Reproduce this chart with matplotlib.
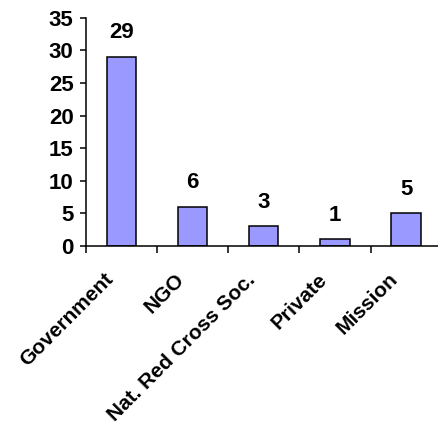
import matplotlib
matplotlib.use("Agg")
import matplotlib.pyplot as plt

categories = ["Government", "NGO", "Nat. Red Cross Soc.", "Private", "Mission"]
counts = [29, 6, 3, 1, 5]
y_ticks = [0, 5, 10, 15, 20, 25, 30, 35]

plt.rcParams["font.family"] = ["Liberation Sans", "DejaVu Sans"]
plt.rcParams["font.weight"] = "bold"

fig = plt.figure(figsize=(4.39, 4.36), dpi=100)
ax = fig.add_axes([0.196, 0.436, 0.81, 0.523])

x = [i + 0.5 for i in range(len(categories))]
ax.bar(x, counts, width=0.41, color="#9999FF", edgecolor="black", linewidth=1.1)

# value labels above bars
for xi, v in zip(x, counts):
    ax.annotate(str(v), (xi, v), xytext=(0, 17.5), textcoords="offset points",
                ha="center", va="center", fontsize=16, fontweight="bold")

ax.set_xlim(0, len(categories))
ax.set_ylim(0, 35)
ax.set_yticks(y_ticks)
ax.set_yticklabels([str(t) for t in y_ticks], fontsize=16, fontweight="bold")

# ticks sit on category boundaries, names are placed under the centres
ax.set_xticks(range(len(categories) + 1))
ax.set_xticklabels([])
for xi, name in zip(x, categories):
    ax.annotate(name, (xi, 0), xycoords=("data", "axes fraction"),
                xytext=(-8, -22), textcoords="offset points",
                ha="right", va="center", rotation=45, rotation_mode="anchor",
                fontsize=15, fontweight="bold", annotation_clip=False)

ax.tick_params(axis="x", length=5, width=1.1, direction="out")
ax.tick_params(axis="y", length=4, width=1.1, direction="out", pad=5)

for side in ["top", "right"]:
    ax.spines[side].set_visible(False)
for side in ["left", "bottom"]:
    ax.spines[side].set_linewidth(1.1)

fig.savefig("out.png", dpi=100)
